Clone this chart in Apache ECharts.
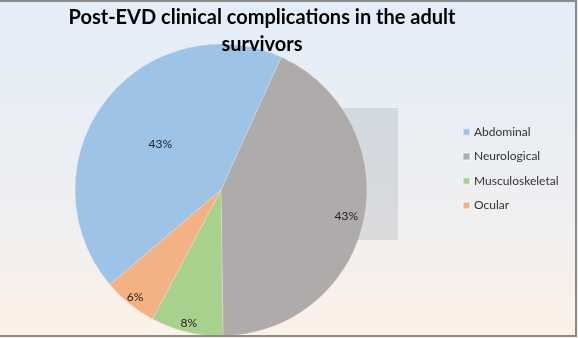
<!DOCTYPE html>
<html>
<head>
<meta charset="utf-8">
<script src="https://cdn.jsdelivr.net/npm/echarts@6/dist/echarts.min.js"></script>
<style>
  html, body { margin: 0; padding: 0; }
  #chart { width: 578px; height: 338px; }
</style>
</head>
<body>
<div id="chart"></div>
<script>
// Complication categories and their share of adult survivors (%)
const categories = ['Abdominal', 'Neurological', 'Musculoskeletal', 'Ocular'];
const shares = [43, 43, 8, 6];
const colors = ['#9dc3e6', '#afabab', '#a9d18e', '#f4b183'];
const titleText = 'Post-EVD clinical complications in the adult\nsurvivors';

const FONT = 'Lato, "Open Sans", sans-serif';
const CENTER = [221, 190];
const RADIUS = 146;
const START = 220.4;

// Which slices carry their label on which ring (label sits mid-ring)
const labelRings = [
  { ring: [0, RADIUS], show: ['Abdominal'] },
  { ring: [104, RADIUS], show: ['Neurological'] },
  { ring: [120, RADIUS + 2], show: ['Musculoskeletal', 'Ocular'] }
];

const labelStyle = {
  position: 'inside',
  formatter: '{d}%',
  color: '#1f1f1f',
  fontFamily: FONT,
  fontSize: 12
};

const series = labelRings.map((cfg, i) => ({
  type: 'pie',
  center: CENTER,
  radius: i === 0 ? [0, RADIUS] : cfg.ring,
  startAngle: START,
  clockwise: true,
  avoidLabelOverlap: false,
  percentPrecision: 0,
  silent: i !== 0,
  z: 2 + i,
  labelLine: { show: false },
  emphasis: { disabled: true },
  label: Object.assign({ show: false }, labelStyle),
  data: categories.map((name, k) => ({
    name: name,
    value: shares[k],
    itemStyle: i === 0
      ? { color: colors[k], borderColor: 'rgba(255,255,255,0.4)', borderWidth: 0.5 }
      : { color: 'rgba(0,0,0,0)', borderWidth: 0 },
    label: { show: cfg.show.indexOf(name) >= 0 }
  }))
}));

const chart = echarts.init(document.getElementById('chart'), null, { renderer: 'canvas' });
chart.setOption({
  animation: false,
  backgroundColor: {
    type: 'linear', x: 0, y: 0, x2: 0, y2: 1,
    colorStops: [
      { offset: 0, color: '#e3edf8' },
      { offset: 0.6, color: '#eeeff1' },
      { offset: 1, color: '#fdf1e7' }
    ]
  },
  color: colors,
  title: {
    text: titleText,
    left: 262,
    top: 4,
    padding: 0,
    textAlign: 'center',
    textStyle: {
      fontFamily: FONT,
      fontWeight: 'bold',
      fontSize: 20,
      lineHeight: 27,
      color: '#000'
    }
  },
  legend: {
    orient: 'vertical',
    left: 462,
    top: 125,
    padding: 0,
    itemWidth: 7,
    itemHeight: 7,
    itemGap: 10.5,
    icon: 'rect',
    selectedMode: false,
    data: categories,
    textStyle: {
      fontFamily: FONT,
      fontSize: 12,
      lineHeight: 14,
      color: '#333333',
      padding: [0, 0, 0, -1]
    }
  },
  graphic: [
    {
      // shaded legend backdrop partly hidden behind the pie
      type: 'rect',
      z: 0,
      silent: true,
      shape: { x: 300, y: 108, width: 98, height: 132 },
      style: { fill: 'rgba(110,120,135,0.18)' }
    },
    {
      // outer frame
      type: 'rect',
      z: 10,
      silent: true,
      shape: { x: -5, y: 1, width: 581, height: 335 },
      style: { fill: 'none', stroke: '#8a8a8a', lineWidth: 2 }
    }
  ],
  series: series
});
</script>
</body>
</html>
